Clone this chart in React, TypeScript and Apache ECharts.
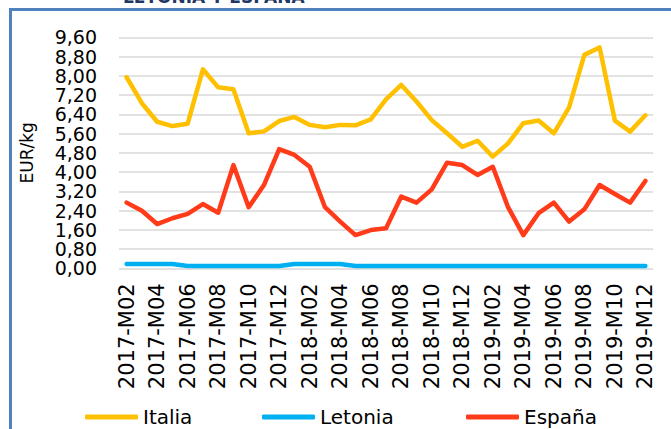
import React, { useEffect, useRef } from "react";
import * as echarts from "echarts";

const categories = [
  "2017-M02","2017-M03","2017-M04","2017-M05","2017-M06","2017-M07","2017-M08","2017-M09","2017-M10","2017-M11","2017-M12",
  "2018-M01","2018-M02","2018-M03","2018-M04","2018-M05","2018-M06","2018-M07","2018-M08","2018-M09","2018-M10","2018-M11","2018-M12",
  "2019-M01","2019-M02","2019-M03","2019-M04","2019-M05","2019-M06","2019-M07","2019-M08","2019-M09","2019-M10","2019-M11","2019-M12",
];

const italia = [7.94,6.86,6.09,5.91,6.01,8.27,7.52,7.44,5.61,5.69,6.12,6.29,5.96,5.86,5.96,5.94,6.19,7.02,7.62,6.93,6.16,5.61,5.05,5.30,4.64,5.19,6.03,6.14,5.61,6.69,8.87,9.18,6.14,5.68,6.36];
const letonia = [0.18,0.18,0.18,0.18,0.10,0.10,0.10,0.10,0.10,0.10,0.10,0.18,0.18,0.18,0.18,0.10,0.10,0.10,0.10,0.10,0.10,0.10,0.10,0.10,0.10,0.10,0.10,0.10,0.10,0.10,0.10,0.10,0.10,0.10,0.10];
const espana = [2.73,2.39,1.84,2.08,2.26,2.67,2.31,4.29,2.54,3.46,4.95,4.71,4.22,2.54,1.94,1.38,1.59,1.66,2.98,2.73,3.28,4.39,4.29,3.88,4.22,2.54,1.38,2.29,2.73,1.94,2.45,3.46,3.09,2.73,3.63];

const seriesNames = ["Italia", "Letonia", "España"];
const seriesColors = ["#FFC000", "#00B0F0", "#FF3B1A"];
const legendLefts = [85, 262, 466];

const Y_MIN = 0;
const Y_MAX = 9.6;
const Y_STEP = 0.8;

const FONT = "DejaVu Sans";

export default function App() {
  const ref = useRef<HTMLDivElement>(null);
  useEffect(() => {
    document.body.style.margin = "0";
    const chart = echarts.init(ref.current!, null, { renderer: "svg" });
    const dataSets = [italia, letonia, espana];
    const fmt = (v: number) => v.toFixed(2).replace(".", ",");
    const labelStyle = {
      fontSize: 19,
      lineHeight: 13,
      color: "#000",
      margin: 22,
      fontFamily: FONT,
      hideOverlap: false,
      formatter: fmt,
    };
    chart.setOption({
      animation: false,
      backgroundColor: "#ffffff",
      textStyle: { fontFamily: FONT },
      graphic: [
        {
          type: "rect",
          shape: { x: 10.5, y: 9.5, width: 700, height: 500 },
          style: { fill: "none", stroke: "#4F81BD", lineWidth: 3 },
          silent: true,
        },
        {
          type: "text",
          x: 123,
          y: -12,
          style: {
            text: "LETONIA Y ESPAÑA",
            font: "bold 17px 'DejaVu Sans'",
            fill: "#1F3864",
            textVerticalAlign: "top",
          },
        },
      ],
      grid: { left: 119, right: 18, top: 37.3, bottom: 160.7 },
      legend: seriesNames.map((name, i) => ({
        left: legendLefts[i],
        top: 407,
        padding: 0,
        itemWidth: 53,
        itemHeight: 5,
        icon: "roundRect",
        textStyle: { fontSize: 20, color: "#000", fontFamily: FONT },
        data: [name],
      })),
      xAxis: {
        type: "category",
        data: categories,
        boundaryGap: true,
        axisLine: { show: false },
        axisTick: { show: false },
        axisLabel: {
          interval: 1,
          rotate: 90,
          fontSize: 21,
          color: "#000",
          margin: 15,
          fontFamily: FONT,
        },
      },
      yAxis: [
        {
          type: "value",
          min: Y_MIN,
          max: Y_MAX,
          interval: Y_STEP,
          position: "left",
          name: "EUR/kg",
          nameLocation: "middle",
          nameGap: 84,
          nameRotate: 90,
          nameTextStyle: { fontSize: 17, color: "#000", fontFamily: FONT },
          axisLine: { show: false },
          axisTick: { show: false },
          splitLine: { lineStyle: { color: "#D9D9D9", width: 1.5 } },
          axisLabel: { ...labelStyle, showMinLabel: false, showMaxLabel: false },
        },
        {
          type: "value",
          min: Y_MIN,
          max: Y_MAX,
          interval: Y_MAX - Y_MIN,
          position: "left",
          axisLine: { show: false },
          axisTick: { show: false },
          splitLine: { show: false },
          axisLabel: { ...labelStyle, showMinLabel: true, showMaxLabel: true },
        },
      ],
      series: seriesNames.map((name, i) => ({
        name,
        type: "line",
        yAxisIndex: 0,
        data: dataSets[i],
        showSymbol: false,
        symbol: "none",
        color: seriesColors[i],
        lineStyle: { width: 4.5, color: seriesColors[i], join: "round", cap: "round" },
        z: i === 1 ? 3 : 2,
      })),
    });
    return () => chart.dispose();
  }, []);
  return <div ref={ref} style={{ width: 671, height: 429 }} />;
}
